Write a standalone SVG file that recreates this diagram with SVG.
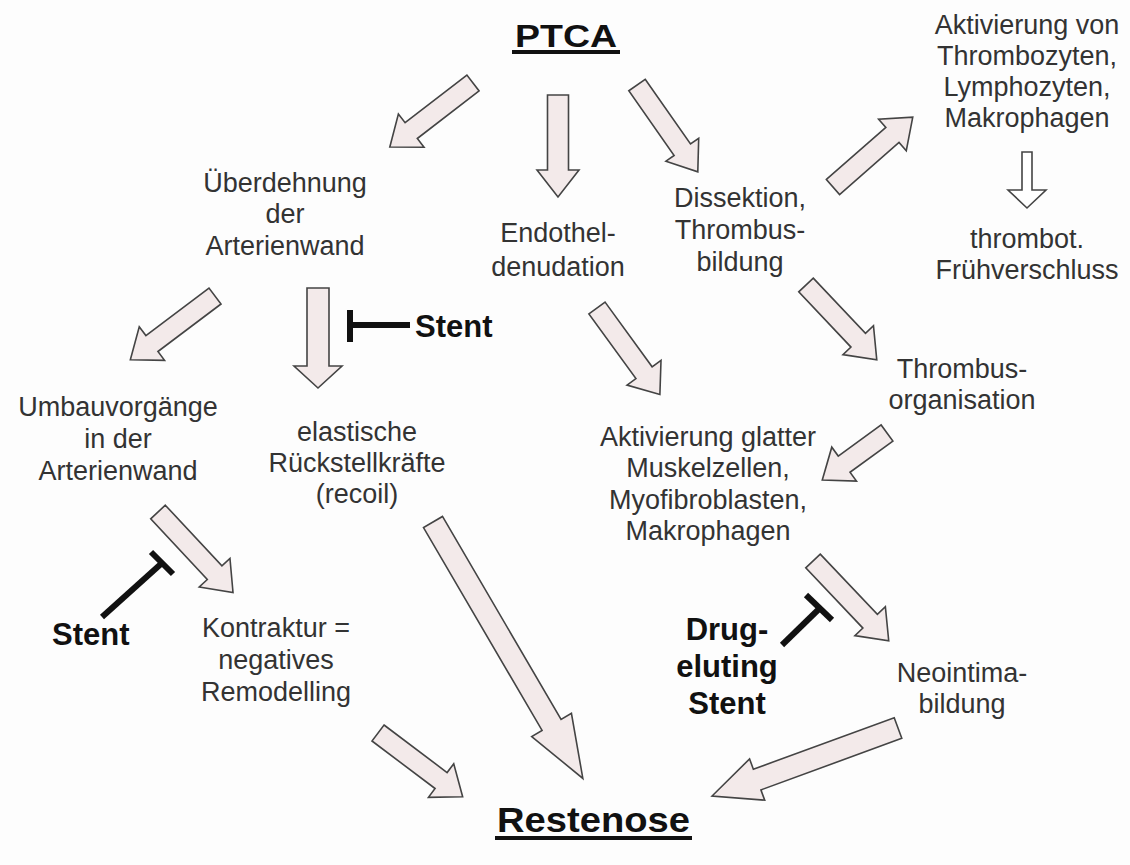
<svg xmlns="http://www.w3.org/2000/svg" width="1130" height="865" viewBox="0 0 1130 865">
<style>
.t{font-family:"Liberation Sans",Arial,sans-serif;font-size:27px;fill:#333;text-anchor:middle}
.b{font-family:"Liberation Sans",Arial,sans-serif;font-weight:bold;fill:#111}
.ar{fill:#f3eaea;stroke:#444;stroke-width:1.6;stroke-linejoin:miter}
.aw{fill:#ffffff;stroke:#444;stroke-width:1.6}
.inh{stroke:#111;stroke-width:6;fill:none}
</style>
<rect width="1130" height="865" fill="#fdfdfd"/>
<g id="connectors">
<polygon class="ar" transform="translate(473,83) rotate(142.4)" points="0,-10 78,-10 78,-21 105,0 78,21 78,10 0,10"/>
<polygon class="ar" transform="translate(558,95) rotate(90)" points="0,-10.5 75,-10.5 75,-21 102,0 75,21 75,10.5 0,10.5"/>
<polygon class="ar" transform="translate(637,85) rotate(55)" points="0,-10 79,-10 79,-20 106,0 79,20 79,10 0,10"/>
<polygon class="ar" transform="translate(833,187) rotate(-41.2)" points="0,-10 79,-10 79,-21 106,0 79,21 79,10 0,10"/>
<polygon class="aw" transform="translate(1027,152) rotate(90)" points="0,-5 38,-5 38,-19 56,0 38,19 38,5 0,5"/>
<polygon class="ar" transform="translate(215,296) rotate(143)" points="0,-10 79,-10 79,-21 106,0 79,21 79,10 0,10"/>
<polygon class="ar" transform="translate(318,288) rotate(90)" points="0,-11 78,-11 78,-24 100,0 78,24 78,11 0,11"/>
<polygon class="ar" transform="translate(597,308) rotate(54)" points="0,-10 80,-10 80,-21 107,0 80,21 80,10 0,10"/>
<polygon class="ar" transform="translate(806,285) rotate(46.6)" points="0,-10 76,-10 76,-21 103,0 76,21 76,10 0,10"/>
<polygon class="ar" transform="translate(887,433) rotate(144)" points="0,-10 53,-10 53,-21 80,0 53,21 53,10 0,10"/>
<polygon class="ar" transform="translate(158,512) rotate(47)" points="0,-10 83,-10 83,-21 110,0 83,21 83,10 0,10"/>
<polygon class="ar" transform="translate(433,522) rotate(59.7)" points="0,-11 235,-11 235,-23 297,0 235,23 235,11 0,11"/>
<polygon class="ar" transform="translate(378,733) rotate(37)" points="0,-10 79,-10 79,-21 106,0 79,21 79,10 0,10"/>
<polygon class="ar" transform="translate(813,561) rotate(46.5)" points="0,-10 83,-10 83,-21 110,0 83,21 83,10 0,10"/>
<polygon class="ar" transform="translate(898,728) rotate(159.9)" points="0,-11 150,-11 150,-22 198,0 150,22 150,11 0,11"/>
</g>
<g id="inhibitors">
<line class="inh" x1="348" y1="325" x2="410" y2="325"/>
<line class="inh" x1="350" y1="310" x2="350" y2="342" stroke-width="7"/>
<line class="inh" x1="102" y1="617" x2="162" y2="563"/>
<line class="inh" x1="151" y1="552" x2="173" y2="574"/>
<line class="inh" x1="782" y1="645" x2="820" y2="608"/>
<line class="inh" x1="806" y1="595" x2="832" y2="620"/>
</g>
<g id="ptca">
<text class="b" x="515" y="47" font-size="32" textLength="102" lengthAdjust="spacingAndGlyphs">PTCA</text>
<rect x="512" y="50" width="108" height="4" fill="#111"/>
</g>
<g id="ueberdehnung">
<text class="t" x="285" y="192">Überdehnung</text>
<text class="t" x="285" y="223">der</text>
<text class="t" x="285" y="255">Arterienwand</text>
</g>
<g id="endothel">
<text class="t" x="558" y="242">Endothel-</text>
<text class="t" x="558" y="276">denudation</text>
</g>
<g id="dissektion">
<text class="t" x="740" y="207">Dissektion,</text>
<text class="t" x="740" y="239">Thrombus-</text>
<text class="t" x="740" y="271">bildung</text>
</g>
<g id="aktivierung-thrombozyten">
<text class="t" x="1027" y="34">Aktivierung von</text>
<text class="t" x="1027" y="65">Thrombozyten,</text>
<text class="t" x="1027" y="96">Lymphozyten,</text>
<text class="t" x="1027" y="127">Makrophagen</text>
</g>
<g id="fruehverschluss">
<text class="t" x="1027" y="248">thrombot.</text>
<text class="t" x="1027" y="279">Frühverschluss</text>
</g>
<g id="stent1">
<text class="b" x="415" y="337" font-size="31">Stent</text>
</g>
<g id="umbau">
<text class="t" x="118" y="416">Umbauvorgänge</text>
<text class="t" x="118" y="448">in der</text>
<text class="t" x="118" y="480">Arterienwand</text>
</g>
<g id="elastische">
<text class="t" x="357" y="441">elastische</text>
<text class="t" x="357" y="472">Rückstellkräfte</text>
<text class="t" x="357" y="503">(recoil)</text>
</g>
<g id="thrombusorganisation">
<text class="t" x="962" y="378">Thrombus-</text>
<text class="t" x="962" y="409">organisation</text>
</g>
<g id="aktivierung-glatter">
<text class="t" x="708" y="446">Aktivierung glatter</text>
<text class="t" x="708" y="477">Muskelzellen,</text>
<text class="t" x="708" y="509">Myofibroblasten,</text>
<text class="t" x="708" y="540">Makrophagen</text>
</g>
<g id="stent2">
<text class="b" x="52" y="645" font-size="31">Stent</text>
</g>
<g id="kontraktur">
<text class="t" x="276" y="637">Kontraktur =</text>
<text class="t" x="276" y="669">negatives</text>
<text class="t" x="276" y="701">Remodelling</text>
</g>
<g id="des">
<text class="b" x="727" y="640" font-size="31" text-anchor="middle">Drug-</text>
<text class="b" x="727" y="677" font-size="31" text-anchor="middle">eluting</text>
<text class="b" x="727" y="714" font-size="31" text-anchor="middle">Stent</text>
</g>
<g id="neointima">
<text class="t" x="962" y="682">Neointima-</text>
<text class="t" x="962" y="713">bildung</text>
</g>
<g id="restenose">
<text class="b" x="497" y="832" font-size="35" textLength="193" lengthAdjust="spacingAndGlyphs">Restenose</text>
<rect x="495" y="836" width="197" height="4" fill="#111"/>
</g>
</svg>
